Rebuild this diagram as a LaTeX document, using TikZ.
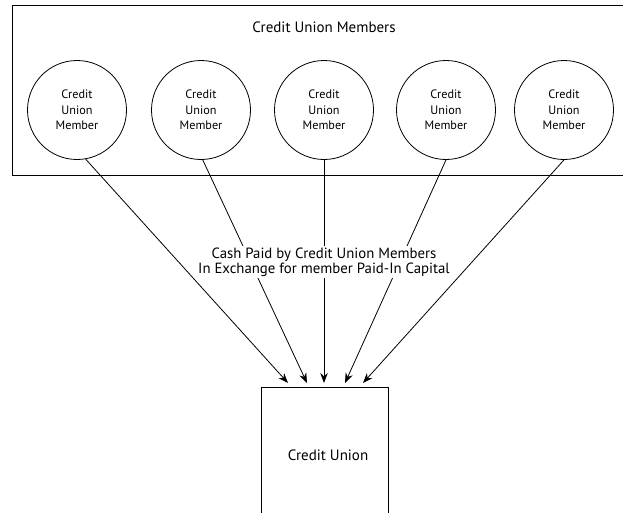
\documentclass[tikz,border=0pt]{standalone}
\usepackage{fontspec}
\setmainfont{PT Sans}
\usetikzlibrary{arrows.meta}
\tikzset{
  line/.style={line width=0.8pt, draw=black},
  member/.style={circle, line, minimum size=99pt, inner sep=0pt, align=center,
    font=\fontsize{12.2}{15.5}\selectfont},
  flow/.style={line, -{Stealth[length=10pt,width=7.5pt]}},
  grpbox/.style={rectangle, line, inner sep=0pt},
  lbl/.style={fill=white, align=center, inner sep=2pt, font=\fontsize{14.8}{15}\selectfont}
}
\begin{document}
\begin{tikzpicture}[x=1pt,y=-1pt]
\useasboundingbox (0,0) rectangle (623,512);
\clip (0,0) rectangle (623,512);
\node[grpbox, minimum width=620pt, minimum height=170pt] (grp) at (322,90) {};
\node[font=\fontsize{15}{18}\selectfont] (title) at (324,27) {Credit Union Members};
\node[member] (m1) at (77,110) {Credit\\Union\\Member};
\node[member] (m2) at (201,110) {Credit\\Union\\Member};
\node[member] (m3) at (324,110) {Credit\\Union\\Member};
\node[member] (m4) at (446,110) {Credit\\Union\\Member};
\node[member] (m5) at (564,110) {Credit\\Union\\Member};
\node[grpbox, minimum width=127pt, minimum height=150pt, anchor=north] (cu) at (324.5,387) {};
\node[font=\fontsize{15}{18}\selectfont] (cutext) at (328,455) {Credit Union};
\coordinate (t1) at (288,383);
\coordinate (t2) at (307,383);
\coordinate (t3) at (324,383);
\coordinate (t4) at (345,383);
\coordinate (t5) at (363,383);
\draw[flow] (m1.-80) -- (t1);
\draw[flow] (m2.-88) -- (t2);
\draw[flow] (m3.south) -- (t3);
\draw[flow] (m4.south) -- (t4);
\draw[flow] (m5.south) -- (t5);
\node[lbl] (cash) at (324,262) {Cash Paid by Credit Union Members\\In Exchange for member Paid-In Capital};
\end{tikzpicture}
\end{document}
